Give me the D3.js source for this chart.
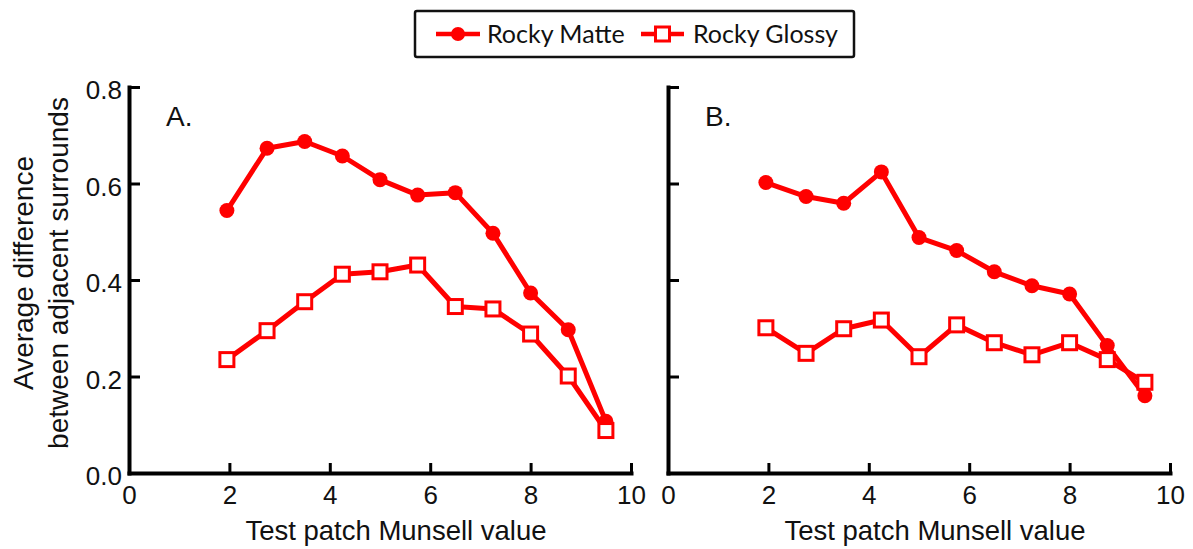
<!DOCTYPE html>
<html>
<head>
<meta charset="utf-8">
<script src="https://cdn.jsdelivr.net/npm/d3@7"></script>
<style>
  html, body { margin: 0; padding: 0; background: #fff; }
  svg { display: block; }
</style>
</head>
<body>
<svg id="chart" width="1193" height="549"></svg>
<script>
// Munsell values of the test patches
const munsell = [1.95, 2.75, 3.5, 4.25, 5, 5.75, 6.5, 7.25, 8, 8.75, 9.5];

// Panel A
const matteA  = [0.544, 0.673, 0.687, 0.657, 0.608, 0.576, 0.581, 0.497, 0.373, 0.297, 0.107];
const glossyA = [0.235, 0.295, 0.355, 0.412, 0.417, 0.431, 0.345, 0.340, 0.288, 0.201, 0.088];

// Panel B
const matteB  = [0.602, 0.573, 0.559, 0.624, 0.488, 0.461, 0.417, 0.388, 0.371, 0.264, 0.160];
const glossyB = [0.301, 0.248, 0.299, 0.317, 0.241, 0.307, 0.270, 0.245, 0.270, 0.235, 0.188];

const xTicks = [0, 2, 4, 6, 8, 10];
const yTicks = [0.0, 0.2, 0.4, 0.6, 0.8];
const panelLabels = ["A.", "B."];
const seriesNames = ["Rocky Matte", "Rocky Glossy"];

const RED = "#ff0000";
const svg = d3.select("#chart");
const axisFont = "'Liberation Sans', Arial, Helvetica, sans-serif";

const panels = [
  { left: 129, label: panelLabels[0], matte: matteA, glossy: glossyA, yLabels: true },
  { left: 668, label: panelLabels[1], matte: matteB, glossy: glossyB, yLabels: false }
];
const plotW = 502, plotTop = 87, plotBottom = 473;

const y = d3.scaleLinear().domain([0, 0.8]).range([plotBottom, plotTop]);

panels.forEach(p => {
  const x = d3.scaleLinear().domain([0, 10]).range([p.left, p.left + plotW]);
  const g = svg.append("g");

  // x axis, ticks pointing inward
  const xAxis = d3.axisBottom(x).tickValues(xTicks).tickSizeInner(-10).tickSizeOuter(0)
    .tickPadding(13).tickFormat(d3.format("d"));
  const gx = g.append("g").attr("transform", `translate(0,${plotBottom})`).call(xAxis);
  gx.select(".domain").attr("stroke", "#000").attr("stroke-width", 4).attr("stroke-linecap", "square");
  gx.selectAll(".tick line").attr("stroke", "#000").attr("stroke-width", 3);
  gx.selectAll(".tick text").attr("font-family", axisFont).attr("font-size", 26).attr("fill", "#111");

  // y axis, ticks pointing inward
  const yAxis = d3.axisLeft(y).tickValues(yTicks).tickSizeInner(-11).tickSizeOuter(0)
    .tickPadding(7).tickFormat(p.yLabels ? d3.format(".1f") : () => "");
  const gy = g.append("g").attr("transform", `translate(${p.left},0)`).call(yAxis);
  gy.select(".domain").attr("stroke", "#000").attr("stroke-width", 4).attr("stroke-linecap", "square");
  gy.selectAll(".tick line").attr("stroke", "#000").attr("stroke-width", 3);
  gy.selectAll(".tick text").attr("font-family", axisFont).attr("font-size", 26).attr("fill", "#111")
    .attr("dy", "0.45em");

  // x axis title
  g.append("text").attr("x", p.left + 267).attr("y", 540).attr("text-anchor", "middle")
    .attr("font-family", axisFont).attr("font-size", 27.5).attr("fill", "#111")
    .text("Test patch Munsell value");

  // panel label
  g.append("text").attr("x", p.left + 37).attr("y", 126)
    .attr("font-family", axisFont).attr("font-size", 28).attr("fill", "#111")
    .text(p.label);

  const line = d3.line().x((d, i) => x(munsell[i])).y(d => y(d));

  // Rocky Matte
  g.append("path").datum(p.matte).attr("d", line).attr("fill", "none")
    .attr("stroke", RED).attr("stroke-width", 5).attr("stroke-linejoin", "round");
  g.selectAll(".m").data(p.matte).join("circle")
    .attr("cx", (d, i) => x(munsell[i])).attr("cy", d => y(d)).attr("r", 7.5).attr("fill", RED);

  // Rocky Glossy
  g.append("path").datum(p.glossy).attr("d", line).attr("fill", "none")
    .attr("stroke", RED).attr("stroke-width", 5).attr("stroke-linejoin", "round");
  g.selectAll(".s").data(p.glossy).join("rect")
    .attr("x", (d, i) => x(munsell[i]) - 7).attr("y", d => y(d) - 7)
    .attr("width", 14).attr("height", 14)
    .attr("fill", "#fff").attr("stroke", RED).attr("stroke-width", 3);
});

// y axis title
svg.append("text")
  .attr("transform", "translate(33,273) rotate(-90)")
  .attr("text-anchor", "middle").attr("font-family", axisFont).attr("font-size", 28).attr("fill", "#111")
  .call(t => {
    t.append("tspan").attr("x", 0).attr("dy", 0).text("Average difference");
    t.append("tspan").attr("x", 0).attr("dy", 35).text("between adjacent surrounds");
  });

// legend
const legendFont = "Lato, 'Open Sans', sans-serif";
const lg = svg.append("g");
lg.append("rect").attr("x", 415).attr("y", 11).attr("width", 439).attr("height", 46)
  .attr("rx", 2).attr("fill", "#fff").attr("stroke", "#111").attr("stroke-width", 2.5);

const legendItems = [
  { name: seriesNames[0], x0: 436, x1: 480, tx: 487, marker: "circle" },
  { name: seriesNames[1], x0: 641, x1: 684, tx: 693, marker: "square" }
];
legendItems.forEach(it => {
  const cy = 34;
  lg.append("line").attr("x1", it.x0).attr("x2", it.x1).attr("y1", cy).attr("y2", cy)
    .attr("stroke", RED).attr("stroke-width", 4.5);
  const cx = (it.x0 + it.x1) / 2;
  if (it.marker === "circle") {
    lg.append("circle").attr("cx", cx).attr("cy", cy).attr("r", 7).attr("fill", RED);
  } else {
    lg.append("rect").attr("x", cx - 7).attr("y", cy - 7).attr("width", 14).attr("height", 14)
      .attr("fill", "#fff").attr("stroke", RED).attr("stroke-width", 3);
  }
  lg.append("text").attr("x", it.tx).attr("y", cy + 9).attr("font-family", legendFont)
    .attr("font-size", 25).attr("fill", "#111").text(it.name);
});
</script>
</body>
</html>
